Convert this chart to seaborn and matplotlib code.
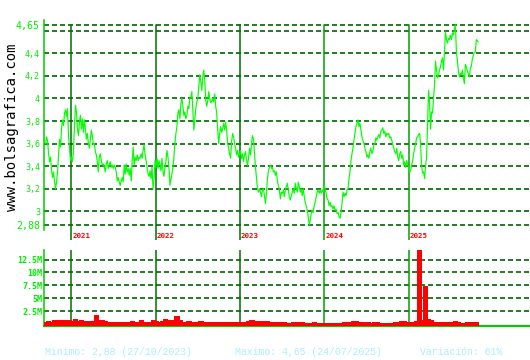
import numpy as np
import pandas as pd
import matplotlib
matplotlib.use("Agg")
import matplotlib.pyplot as plt
import matplotlib.dates as mdates
import seaborn as sns

# ---------------- data ----------------
price_seg_2020_21 = [
    3.60, 3.66, 3.62, 3.51, 3.44, 3.48, 3.36, 3.30, 3.35, 3.26,
    3.20, 3.26, 3.35, 3.50, 3.64, 3.57, 3.73, 3.81, 3.76, 3.87,
    3.90, 3.84, 3.91, 3.67, 3.56, 3.45, 3.48, 3.44, 3.53, 3.76,
    3.94, 3.88, 3.73, 3.67, 3.79, 3.85, 3.73, 3.82, 3.70, 3.81,
    3.73, 3.64, 3.69, 3.60, 3.56, 3.64, 3.72, 3.67, 3.59, 3.60,
    3.53, 3.50, 3.44, 3.35, 3.48, 3.51, 3.45, 3.41, 3.42, 3.39,
    3.35, 3.42, 3.45, 3.38, 3.41, 3.44, 3.39, 3.41, 3.38, 3.41,
    3.39, 3.35, 3.27, 3.30, 3.26, 3.23, 3.27, 3.30, 3.26, 3.41,
    3.33, 3.42, 3.35, 3.38, 3.32, 3.38, 3.27, 3.44, 3.57, 3.41,
    3.48, 3.45, 3.50, 3.45, 3.48, 3.47]
price_seg_2022 = [
    3.51, 3.47, 3.54, 3.59, 3.50, 3.45, 3.39, 3.33, 3.31, 3.36,
    3.29, 3.39, 3.20, 3.28, 3.45, 3.39, 3.47, 3.38, 3.45, 3.41,
    3.36, 3.47, 3.35, 3.31, 3.39, 3.45, 3.54, 3.48, 3.39, 3.23,
    3.28, 3.33, 3.39, 3.48, 3.60, 3.69, 3.75, 3.87, 3.90, 3.82,
    3.96, 4.00, 3.93, 3.85, 3.88, 3.82, 3.85, 3.93, 3.91, 4.00,
    4.01, 4.06, 3.90, 3.72, 3.82, 3.91, 3.97, 4.00, 4.10, 4.21,
    4.15, 4.07, 4.19, 4.25, 4.16, 3.98, 3.93, 3.98, 4.06, 4.00,
    3.96, 3.98, 4.00, 3.97, 4.04, 3.93, 3.87, 3.72, 3.60, 3.69,
    3.75, 3.70, 3.73, 3.78, 3.72, 3.79, 3.72, 3.60, 3.56, 3.51, 3.47]
price_seg_2023 = [
    3.62, 3.69, 3.66, 3.60, 3.56, 3.50, 3.54, 3.48, 3.51, 3.54,
    3.47, 3.51, 3.44, 3.50, 3.53, 3.45, 3.41, 3.47, 3.56, 3.50,
    3.60, 3.67, 3.64, 3.51, 3.39, 3.29, 3.20, 3.17, 3.20, 3.17,
    3.13, 3.19, 3.20, 3.14, 3.07, 3.16, 3.29, 3.36, 3.39, 3.41,
    3.38, 3.39, 3.35, 3.36, 3.32, 3.35, 3.27, 3.23, 3.19, 3.11,
    3.17, 3.16, 3.19, 3.13, 3.19, 3.22, 3.25, 3.19, 3.13, 3.10,
    3.14, 3.17, 3.20, 3.16, 3.25, 3.20, 3.17, 3.26, 3.22, 3.17,
    3.20, 3.14, 3.20, 3.13, 3.08, 3.05, 3.01, 2.95, 2.88, 2.92,
    2.98, 3.01, 2.99, 3.05, 3.08, 3.13, 3.17, 3.19, 3.16, 3.19,
    3.16, 3.19, 3.17, 3.23]
price_seg_2024 = [
    3.20, 3.16, 3.11, 3.10, 3.05, 3.08, 3.04, 3.05, 3.02, 3.05,
    3.01, 3.02, 2.98, 2.99, 2.95, 2.94, 2.99, 3.07, 3.17, 3.13,
    3.16, 3.14, 3.19, 3.20, 3.29, 3.35, 3.45, 3.51, 3.56, 3.63,
    3.69, 3.75, 3.78, 3.81, 3.75, 3.78, 3.72, 3.66, 3.63, 3.60,
    3.56, 3.53, 3.48, 3.50, 3.47, 3.53, 3.56, 3.51, 3.53, 3.59,
    3.60, 3.65, 3.63, 3.66, 3.68, 3.65, 3.71, 3.72, 3.74, 3.69,
    3.71, 3.66, 3.69, 3.68, 3.69, 3.65, 3.66, 3.63, 3.59, 3.56,
    3.53, 3.51, 3.56, 3.48, 3.45, 3.51, 3.53, 3.47, 3.50, 3.41,
    3.44, 3.39, 3.45, 3.41, 3.39, 3.35, 3.36, 3.41, 3.45, 3.51,
    3.56, 3.60, 3.65, 3.66, 3.68, 3.69]
price_seg_2025 = [
    3.59, 3.40, 3.34, 3.35, 3.29, 3.40, 3.48, 3.78, 4.07, 3.96,
    3.73, 3.88, 3.87, 4.00, 4.13, 4.33, 4.25, 4.18, 4.21, 4.25,
    4.28, 4.33, 4.36, 4.25, 4.41, 4.59, 4.52, 4.49, 4.53, 4.52,
    4.56, 4.52, 4.58, 4.56, 4.61, 4.65, 4.41, 4.33, 4.24, 4.19,
    4.22, 4.21, 4.25, 4.18, 4.13, 4.30, 4.28, 4.24, 4.22, 4.19,
    4.27, 4.28, 4.35, 4.38, 4.41, 4.41, 4.52, 4.51, 4.50]
prices = (price_seg_2020_21 + price_seg_2022 + price_seg_2023
          + price_seg_2024 + price_seg_2025)
price_start, price_end = "2020-09-11", "2025-10-30"

volume_millions = [
    0.4, 0.5, 0.4, 0.65, 0.7, 0.7, 0.7, 0.75, 0.75, 0.5,
    1.0, 0.5, 0.7, 0.6, 0.5, 0.5, 0.5, 1.7, 0.8, 0.65,
    0.5, 0.4, 0.3, 0.4, 0.4, 0.4, 0.3, 0.3, 0.4, 0.5,
    0.3, 0.4, 0.8, 0.4, 0.3, 0.4, 0.65, 0.5, 0.3, 0.6,
    1.0, 0.5, 0.7, 0.8, 1.4, 0.65, 0.3, 0.3, 0.5, 0.3,
    0.3, 0.4, 0.6, 0.3, 0.4, 0.3, 0.4, 0.3, 0.3, 0.4,
    0.3, 0.3, 0.3, 0.4, 0.3, 0.3, 0.3, 0.3, 0.6, 0.7,
    0.5, 0.6, 0.4,
    0.6, 0.6, 0.4, 0.3, 0.3, 0.3, 0.3, 0.3, 0.2, 0.2,
    0.3, 0.4, 0.3, 0.3, 0.2, 0.2, 0.2, 0.4, 0.2, 0.2,
    0.2, 0.2, 0.2, 0.2, 0.2, 0.2, 0.2, 0.3, 0.4, 0.4,
    0.5, 0.5, 0.4, 0.3, 0.3, 0.3, 0.2, 0.3, 0.3, 0.2,
    0.2, 0.2, 0.2, 0.2, 0.3, 0.3, 0.5, 0.5, 0.3, 0.3,
    0.3, 0.5, 14.5, 0.8, 7.3, 0.9, 0.7, 0.4, 0.3, 0.3,
    0.4, 0.3, 0.3, 0.3, 0.6, 0.3, 0.2, 0.2, 0.3, 0.3,
    0.3, 0.3]
volume_start, volume_end = "2020-09-10", "2025-10-22"

price_ticks = [4.65, 4.6, 4.4, 4.2, 4.0, 3.8, 3.6, 3.4, 3.2, 3.0, 2.88]
price_tick_labels = ["4,65", "", "4,4", "4,2", "4", "3,8", "3,6", "3,4", "3,2", "3", "2,88"]
volume_ticks = [12.5, 10, 7.5, 5, 2.5]
volume_tick_labels = ["12.5M", "10M", "7.5M", "5M", "2.5M"]
years = [2021, 2022, 2023, 2024, 2025]

footer_min = "Minimo: 2,88 (27/10/2023)"
footer_max = "Maximo: 4,65 (24/07/2025)"
footer_var = "Variación: 61%"
watermark = "www.bolsagrafica.com"

# ---------------- style ----------------
sns.set_style("white")
plt.rcParams["font.family"] = ["DejaVu Sans Mono", "DejaVu Sans"]

LINE = "#00ff00"
GRID = "#006400"
AXIS = "#00cc00"
TICK = "#00ee00"
RED = "#ff0000"
FOOT = "#aaeeff"
year_colors = ["#007000", "#007000", "#007000", "#00a000", "#00a000"]

xmin, xmax = pd.Timestamp("2020-09-04"), pd.Timestamp("2026-06-11")

fig = plt.figure(figsize=(5.3, 3.6), dpi=100)
fig.patch.set_facecolor("white")
ax = fig.add_axes([44/530, 1-240/360, 486/530, 220/360])
axv = fig.add_axes([44/530, 1-326/360, 486/530, 76/360])

# ---------------- price chart ----------------
price_df = pd.DataFrame({
    "date": pd.date_range(price_start, price_end, periods=len(prices)),
    "price": prices})
ylo, yhi = 2.747, 4.694
ax.set_ylim(ylo, yhi)
ax.set_xlim(xmin, xmax)
for t in price_ticks:
    ax.axhline(t, color=GRID, lw=1.2, ls=(0, (3, 1.8)), zorder=1)
top_frac = (4.65 - ylo) / (yhi - ylo)
for yr, c in zip(years, year_colors):
    xd = mdates.date2num(pd.Timestamp(f"{yr}-01-01"))
    ax.axvline(xd, ymin=0, ymax=top_frac, color=c, lw=1.1, zorder=2)
    ax.annotate(str(yr), xy=(xd, 0.018),
                xycoords=ax.get_xaxis_transform(), xytext=(0.8, 0),
                textcoords="offset points", color=RED, fontsize=5.4,
                fontweight="bold", va="center", ha="left")
sns.lineplot(data=price_df, x="date", y="price", ax=ax, color=LINE, lw=0.85, zorder=3)
ax.set_xlim(xmin, xmax)
ax.set_xlabel("")
ax.set_ylabel("")
ax.set_xticks([])
ax.set_yticks(price_ticks)
ax.set_yticklabels(price_tick_labels)
ax.tick_params(axis="y", length=0, pad=2.9, labelcolor=TICK, labelsize=6)
for lab, t in zip(ax.get_yticklabels(), price_ticks):
    if t in (4.65, 2.88):
        lab.set_fontsize(7.2)
for s in ["top", "right", "bottom"]:
    ax.spines[s].set_visible(False)
ax.spines["left"].set_color(AXIS)
ax.spines["left"].set_linewidth(1.1)
ax.spines["left"].set_bounds(2.838, yhi)

# ---------------- volume chart ----------------
vol_dates = pd.date_range(volume_start, volume_end, periods=len(volume_millions))
axv.set_xlim(xmin, xmax)
axv.set_ylim(-0.35, 14.35)
for t in volume_ticks:
    axv.axhline(t, color=GRID, lw=1.2, ls=(0, (3, 1.8)), zorder=1)
for yr, c in zip(years, year_colors):
    axv.axvline(mdates.date2num(pd.Timestamp(f"{yr}-01-01")), color=c, lw=1.1, zorder=2)
axv.bar(vol_dates, volume_millions, width=14.0, bottom=-0.1, color=RED,
        edgecolor=RED, linewidth=0.3, antialiased=False, zorder=3)
axv.set_xlim(xmin, xmax)
axv.set_xticks([])
axv.set_yticks(volume_ticks)
axv.set_yticklabels(volume_tick_labels)
axv.tick_params(axis="y", length=0, pad=1.2, labelcolor=TICK, labelsize=6)
for lab in axv.get_yticklabels():
    lab.set_fontweight("bold")
for s in ["top", "right"]:
    axv.spines[s].set_visible(False)
axv.spines["left"].set_color(AXIS)
axv.spines["left"].set_linewidth(1.1)
axv.spines["bottom"].set_color(AXIS)
axv.spines["bottom"].set_linewidth(1.5)

# ---------------- texts ----------------
fig.text(12.5/530, 1-127/360, watermark, rotation=90, color="black",
         fontsize=10, ha="center", va="center", family=["DejaVu Sans Mono"])
for xpx, txt in [(45, footer_min), (235, footer_max), (420, footer_var)]:
    fig.text(xpx/530, 1-352/360, txt, color=FOOT, fontsize=7.1,
             ha="left", va="center", family=["Liberation Mono", "DejaVu Sans Mono"])

fig.savefig("out.png", dpi=100, facecolor="white")
